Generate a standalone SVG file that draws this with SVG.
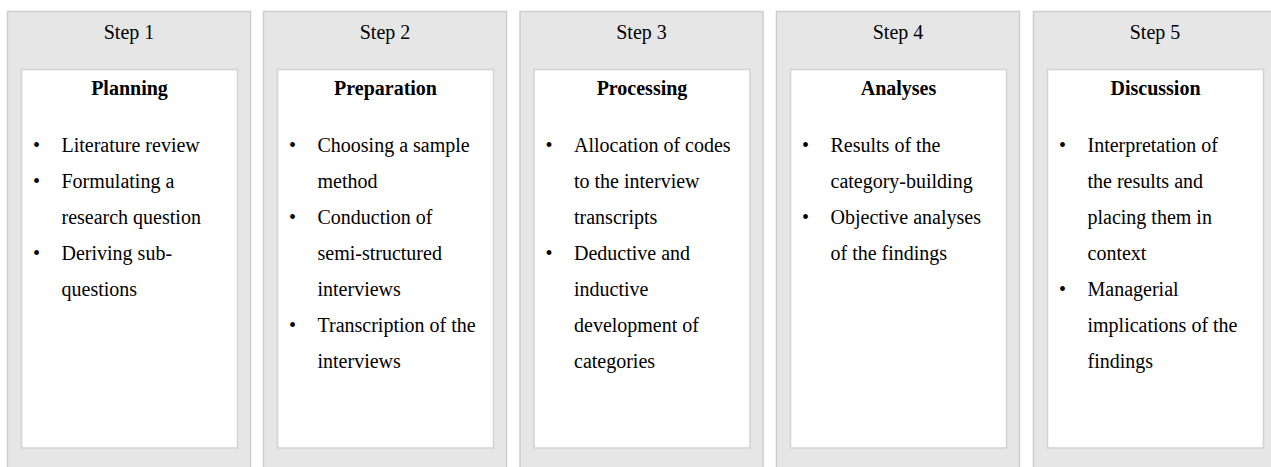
<svg xmlns="http://www.w3.org/2000/svg" width="1271" height="467" viewBox="0 0 1271 467">
<style>
.outer{fill:#e6e6e6;stroke:#cdcdcd;stroke-width:1.5}
.inner{fill:#ffffff;stroke:#d2d2d2;stroke-width:1.5}
text{font-family:"Liberation Serif","Times New Roman",serif;font-size:20px;fill:#000}
.step{text-anchor:middle}
.head{text-anchor:middle;font-weight:bold}
</style>
<rect width="1271" height="467" fill="#ffffff"/>
<g id="connectors"/>
<g id="step1" transform="translate(0,0)">
<rect class="outer" x="7.5" y="11.5" width="243" height="470"/>
<rect class="inner" x="21.5" y="69.5" width="216" height="378.5"/>
<text class="step" x="129" y="38.5">Step 1</text>
<text class="head" x="129.5" y="94.5">Planning</text>
<text x="33" y="151.5">•</text><text x="61.5" y="151.5">Literature review</text>
<text x="33" y="187.5">•</text><text x="61.5" y="187.5">Formulating a</text>
<text x="61.5" y="223.5">research question</text>
<text x="33" y="259.5">•</text><text x="61.5" y="259.5">Deriving sub-</text>
<text x="61.5" y="295.5">questions</text>
</g>
<g id="step2" transform="translate(256,0)">
<rect class="outer" x="7.5" y="11.5" width="243" height="470"/>
<rect class="inner" x="21.5" y="69.5" width="216" height="378.5"/>
<text class="step" x="129" y="38.5">Step 2</text>
<text class="head" x="129.5" y="94.5">Preparation</text>
<text x="33" y="151.5">•</text><text x="61.5" y="151.5">Choosing a sample</text>
<text x="61.5" y="187.5">method</text>
<text x="33" y="223.5">•</text><text x="61.5" y="223.5">Conduction of</text>
<text x="61.5" y="259.5">semi-structured</text>
<text x="61.5" y="295.5">interviews</text>
<text x="33" y="331.5">•</text><text x="61.5" y="331.5">Transcription of the</text>
<text x="61.5" y="367.5">interviews</text>
</g>
<g id="step3" transform="translate(512.5,0)">
<rect class="outer" x="7.5" y="11.5" width="243" height="470"/>
<rect class="inner" x="21.5" y="69.5" width="216" height="378.5"/>
<text class="step" x="129" y="38.5">Step 3</text>
<text class="head" x="129.5" y="94.5">Processing</text>
<text x="33" y="151.5">•</text><text x="61.5" y="151.5">Allocation of codes</text>
<text x="61.5" y="187.5">to the interview</text>
<text x="61.5" y="223.5">transcripts</text>
<text x="33" y="259.5">•</text><text x="61.5" y="259.5">Deductive and</text>
<text x="61.5" y="295.5">inductive</text>
<text x="61.5" y="331.5">development of</text>
<text x="61.5" y="367.5">categories</text>
</g>
<g id="step4" transform="translate(769,0)">
<rect class="outer" x="7.5" y="11.5" width="243" height="470"/>
<rect class="inner" x="21.5" y="69.5" width="216" height="378.5"/>
<text class="step" x="129" y="38.5">Step 4</text>
<text class="head" x="129.5" y="94.5">Analyses</text>
<text x="33" y="151.5">•</text><text x="61.5" y="151.5">Results of the</text>
<text x="61.5" y="187.5">category-building</text>
<text x="33" y="223.5">•</text><text x="61.5" y="223.5">Objective analyses</text>
<text x="61.5" y="259.5">of the findings</text>
</g>
<g id="step5" transform="translate(1026,0)">
<rect class="outer" x="7.5" y="11.5" width="243" height="470"/>
<rect class="inner" x="21.5" y="69.5" width="216" height="378.5"/>
<text class="step" x="129" y="38.5">Step 5</text>
<text class="head" x="129.5" y="94.5">Discussion</text>
<text x="33" y="151.5">•</text><text x="61.5" y="151.5">Interpretation of</text>
<text x="61.5" y="187.5">the results and</text>
<text x="61.5" y="223.5">placing them in</text>
<text x="61.5" y="259.5">context</text>
<text x="33" y="295.5">•</text><text x="61.5" y="295.5">Managerial</text>
<text x="61.5" y="331.5">implications of the</text>
<text x="61.5" y="367.5">findings</text>
</g>
</svg>
